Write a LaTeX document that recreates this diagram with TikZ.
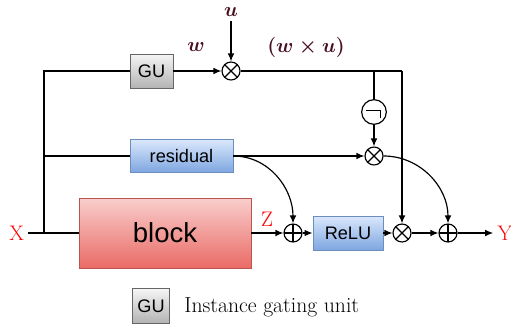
\documentclass[tikz,border=0pt]{standalone}
\usepackage{fontspec}
\usetikzlibrary{arrows.meta}

\newfontfamily\boxfont{Liberation Sans}

\definecolor{lblred}{HTML}{4A1020}
\definecolor{blocktop}{HTML}{F8CECC}
\definecolor{blockbot}{HTML}{EA6B66}
\definecolor{blockline}{HTML}{B85450}
\definecolor{bluetop}{HTML}{DAE8FC}
\definecolor{bluebot}{HTML}{7EA6E0}
\definecolor{blueline}{HTML}{6C8EBF}
\definecolor{graytop}{HTML}{F5F5F5}
\definecolor{graybot}{HTML}{B3B3B3}
\definecolor{grayline}{HTML}{666666}

\tikzset{
    gatebox/.style={draw=grayline, line width=0.8pt, top color=graytop, bottom color=graybot,
        font=\boxfont\fontsize{15.5}{18}\selectfont, inner sep=0pt},
    bluebox/.style={draw=blueline, line width=0.8pt, top color=bluetop, bottom color=bluebot,
        font=\boxfont\fontsize{15.5}{18}\selectfont, inner sep=0pt},
    mulop/.style={circle, draw, line width=1pt, minimum size=0.54cm, inner sep=0pt,
        path picture={\draw[line width=1pt] (path picture bounding box.north east) -- (path picture bounding box.south west)
            (path picture bounding box.north west) -- (path picture bounding box.south east);}},
    addop/.style={circle, draw, line width=1pt, minimum size=0.54cm, inner sep=0pt,
        path picture={\draw[line width=1pt] (path picture bounding box.north) -- (path picture bounding box.south)
            (path picture bounding box.west) -- (path picture bounding box.east);}},
    redlbl/.style={text=red, font=\fontsize{18}{20}\selectfont},
    mathlbl/.style={text=lblred, font=\fontsize{18}{20}\selectfont\boldmath},
}

\begin{document}
\begin{tikzpicture}[line width=1pt, >={Latex[length=2.4mm, width=2mm]}]

    \useasboundingbox (0,0) rectangle (15.33,-9.9);

    % input
    \node[redlbl] (xin) at (0.5,-6.99) {X};
    \coordinate (split) at (1.32,-6.99);

    % boxes
    \node[gatebox, minimum width=1.29cm, minimum height=1.02cm] (gu) at (4.545,-2.13) {GU};
    \node[bluebox, minimum width=3.09cm, minimum height=0.99cm] (res) at (5.445,-4.68) {residual};
    \node[draw=blockline, line width=0.8pt, top color=blocktop, bottom color=blockbot,
        minimum width=5.16cm, minimum height=2.1cm, font=\boxfont\fontsize{23.5}{26}\selectfont] (block) at (4.95,-6.99) {block};
    \node[bluebox, minimum width=2.1cm, minimum height=1.02cm] (relu) at (10.44,-6.99) {ReLU};

    % operators
    \node[mulop] (mulw) at (6.93,-2.13) {};
    \node[circle, draw, minimum size=0.74cm, inner sep=0pt] (neg) at (11.22,-3.36) {};
    \draw ([shift={(-0.23,0.05)}]neg.center) -- ++(0.42,0) -- ++(0,-0.23);
    \node[mulop] (mulr) at (11.22,-4.68) {};
    \node[addop] (addz) at (8.79,-6.99) {};
    \node[mulop] (mulz) at (12.06,-6.99) {};
    \node[addop] (addy) at (13.44,-6.99) {};
    \coordinate (cor) at (12.06,-2.13);

    % labels
    \node[mathlbl] (u) at (6.93,-0.36) {$u$};
    \node[mathlbl] (w) at (5.88,-1.41) {$w$};
    \node[mathlbl] (wu) at (9.18,-1.41) {$(w \times u)$};
    \node[redlbl] (z) at (8.01,-6.57) {Z};
    \node[redlbl] (yout) at (15.15,-6.99) {Y};

    % gating path
    \draw (xin) -- (block);
    \draw (split) |- (gu);
    \draw (split |- res) -- (res);
    \draw[->] (gu) -- (mulw);
    \draw[->] (u) -- (mulw);
    \draw (mulw) -- (cor);
    \draw[->] (cor) -- (mulz);
    \draw (neg |- cor) -- (neg);
    \draw[->] (neg) -- (mulr);

    % residual path
    \draw[->] (res.east) -- (mulr);
    \draw[->] (res.east) to[out=0, in=90] (addz.north);
    \draw[->] (mulr.east) to[out=0, in=90] (addy.north);

    % main path
    \draw[->] (block) -- (addz);
    \draw[->] (addz) -- (relu);
    \draw[->] (relu) -- (mulz);
    \draw[->] (mulz) -- (addy);
    \draw[->] (addy) -- (yout);

    % legend
    \node[gatebox, minimum width=1.11cm, minimum height=1.05cm] (legu) at (4.53,-9.18) {GU};
    \node[anchor=west, font=\fontsize{18.5}{20}\selectfont] (legtext) at (5.4,-9.21) {Instance gating unit};

\end{tikzpicture}
\end{document}
